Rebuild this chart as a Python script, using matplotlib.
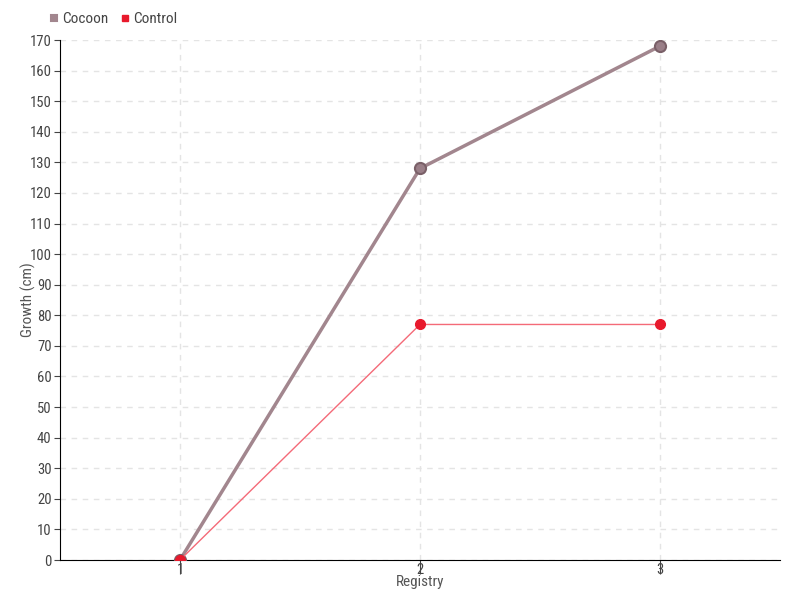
import matplotlib.pyplot as plt
from matplotlib import font_manager

# data
registry = [1, 2, 3]
cocoon = [0, 128, 168]
control = [0, 77, 77]

names = {f.name for f in font_manager.fontManager.ttflist}
font = "DejaVu Sans"
for cand in ["Roboto Condensed", "Liberation Sans Narrow", "Open Sans Condensed"]:
    if cand in names:
        font = cand
        break
plt.rcParams["font.family"] = font
plt.rcParams["font.stretch"] = "condensed"

fig = plt.figure(figsize=(8, 6), dpi=100)
ax = fig.add_axes([60 / 800, 40 / 600, 720 / 800, 520 / 600])

ax.plot(registry, cocoon, color="#a2868e", linewidth=2.5, marker="o", markersize=8,
        markerfacecolor="#9a7f88", markeredgecolor="#7a6068", markeredgewidth=1.5,
        label="Cocoon", zorder=3)
ax.plot(registry, control, color="#f46a78", linewidth=1, marker="o", markersize=7,
        markerfacecolor="#e8192c", markeredgecolor="#e8192c", label="Control", zorder=4)

ax.set_xlim(0.5, 3.5)
ax.set_ylim(0, 170)
ax.set_xticks(registry)
ax.set_yticks(range(0, 171, 10))
ax.grid(True, color="#e4e4e4", linestyle=(0, (4, 4)), linewidth=1)
ax.set_axisbelow(True)
for s in ["top", "right"]:
    ax.spines[s].set_visible(False)
ax.tick_params(colors="#444444", labelsize=10.5)
ax.tick_params(axis="y", length=4, pad=2)
ax.tick_params(axis="x", length=10, pad=-8)
ax.set_xlabel("Registry", color="#555555", fontsize=11, labelpad=-1)
ax.set_ylabel("Growth (cm)", color="#555555", fontsize=11)
ax.yaxis.set_label_coords(-0.034, 0.5)

leg = ax.legend(loc="upper left", bbox_to_anchor=(-0.022, 1.065), ncol=2, frameon=False,
                fontsize=11, handlelength=0.5, handletextpad=0.3, columnspacing=0.8,
                borderaxespad=0)
for h, c in zip(leg.legend_handles, ["#a2868e", "#e8192c"]):
    h.set_linestyle("")
    h.set_marker("s")
    h.set_markersize(5)
    h.set_markerfacecolor(c)
    h.set_markeredgecolor(c)
for t in leg.get_texts():
    t.set_color("#444444")

fig.savefig("out.png", dpi=100)
